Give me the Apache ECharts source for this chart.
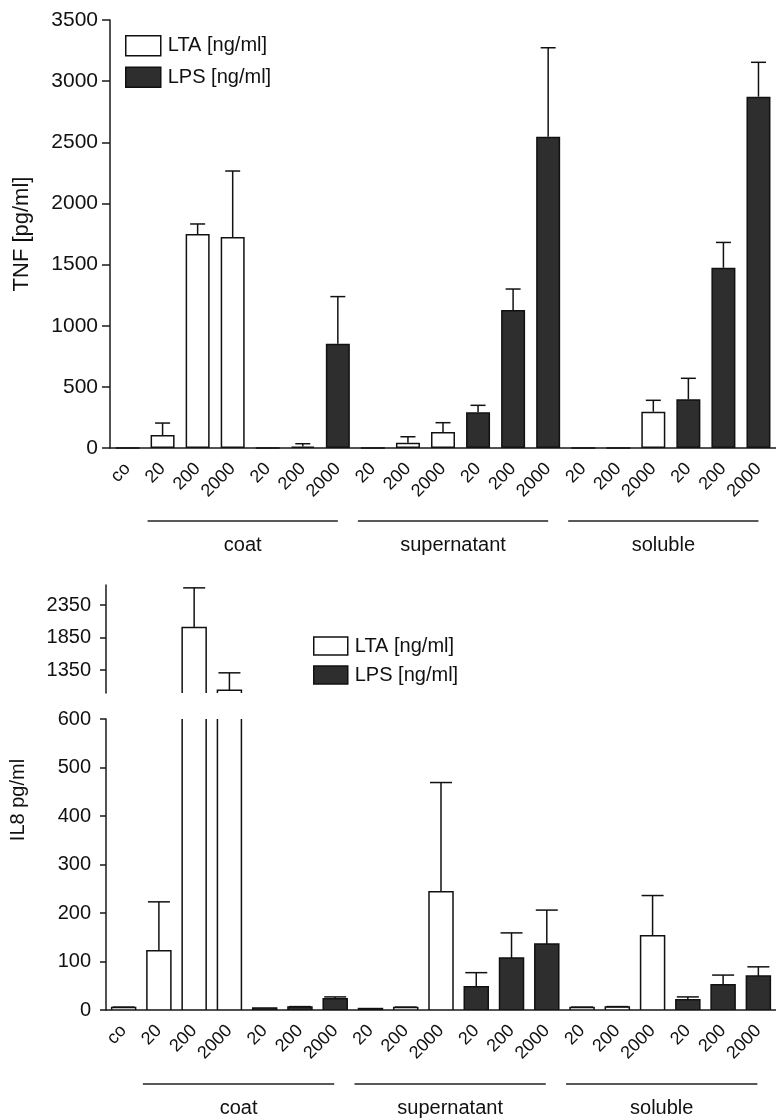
<!DOCTYPE html>
<html><head><meta charset="utf-8">
<script src="https://cdn.jsdelivr.net/npm/echarts@6/dist/echarts.min.js"></script>
<style>html,body{margin:0;padding:0;background:#fff}#c{width:776px;height:1118px}</style>
</head><body><div id="c"></div>
<script>
// ---- data ----
const categories = ['co','20','200','2000','20','200','2000','20','200','2000','20','200','2000','20','200','2000','20','200','2000'];
const stimulus   = ['LTA','LTA','LTA','LTA','LPS','LPS','LPS','LTA','LTA','LTA','LPS','LPS','LPS','LTA','LTA','LTA','LPS','LPS','LPS'];
const groups = ['coat','supernatant','soluble'];
const groupStart = [1, 7, 13];
const groupEnd = [6, 12, 18];
const seriesNames = ['LTA [ng/ml]', 'LPS [ng/ml]'];
const tnfMean = [0, 106, 1750, 1725, 0, 12, 852, 0, 43, 131, 292, 1128, 2546, 0, 0, 297, 398, 1474, 2873];
const tnfSD   = [0, 98, 82, 540, 0, 23, 386, 0, 49, 76, 57, 172, 727, 0, 0, 93, 172, 207, 281];
const il8Mean = [5, 122, 2007, 1042, 4, 6, 23, 3, 5, 244, 48, 107, 136, 5, 6, 153, 21, 52, 70];
const il8SD   = [1, 101, 609, 268, 0, 1, 4, 0, 1, 225, 29, 52, 70, 1, 1, 83, 6, 20, 19];
const il8UpperTicks = [1350, 1850, 2350];

// ---- styles ----
const FONT = '"Liberation Sans", Arial, Helvetica, sans-serif';
const INK = '#111';
const DARK = '#2e2e2e';
const styleLTA = {color: '#fff', borderColor: INK, borderWidth: 1.5};
const styleLPS = {color: DARK, borderColor: INK, borderWidth: 1.5};

const chart = echarts.init(document.getElementById('c'), null, {renderer: 'canvas'});

function pick(arr, kind) { return arr.map((v, i) => stimulus[i] === kind ? v : '-'); }

function errItem(cap) {
  return function (params, api) {
    const x = api.value(0), m = api.value(1), sd = api.value(2);
    if (!(sd > 0)) return null;
    const p0 = api.coord([x, m]);
    const p1 = api.coord([x, m + sd]);
    const st = {stroke: INK, lineWidth: 1.5};
    return {type: 'group', children: [
      {type: 'line', shape: {x1: p0[0], y1: p0[1], x2: p1[0], y2: p1[1]}, style: st},
      {type: 'line', shape: {x1: p1[0] - cap / 2, y1: p1[1], x2: p1[0] + cap / 2, y2: p1[1]}, style: st}
    ]};
  };
}
function barItem(style) {
  return function (params, api) {
    const x = api.value(0), v = api.value(1);
    const top = api.coord([x, v]);
    const base = api.coord([x, 0]);
    const w = 24;
    return {type: 'rect', shape: {x: top[0] - w / 2, y: top[1], width: w, height: base[1] - top[1]},
      style: {fill: style.color, stroke: style.borderColor, lineWidth: style.borderWidth}};
  };
}
function pairs(means, kind) {
  const out = [];
  means.forEach((v, i) => { if (stimulus[i] === kind) out.push([i, v]); });
  return out;
}
function triples(means, sds) { return means.map((v, i) => [i, v, sds[i]]); }

const plain = v => String(v);
const axisLineStyle = {color: '#1a1a1a', width: 1.5};
const xLabel = {color: INK, fontSize: 18, fontFamily: FONT, rotate: 45, interval: 0, margin: 18};

function legendCfg(left, top, iw, ih, gap) {
  return {
    left: left, top: top, orient: 'vertical', icon: 'rect', itemWidth: iw, itemHeight: ih, itemGap: gap,
    textStyle: {color: INK, fontSize: 20, fontFamily: FONT, lineHeight: 20, padding: [0, 0, 0, 2]},
    data: [{name: seriesNames[0], itemStyle: styleLTA}, {name: seriesNames[1], itemStyle: styleLPS}]
  };
}

const option = {
  backgroundColor: '#fff',
  animation: false,
  legend: [legendCfg(120, 30, 35, 20, 10), legendCfg(308, 631, 34, 18, 9)],
  grid: [
    {left: 110, top: 20, width: 678, height: 428},
    {left: 106, top: 585, width: 672, height: 108},
    {left: 106, top: 719, width: 672, height: 291}
  ],
  xAxis: [
    {gridIndex: 0, type: 'category', data: categories,
     axisLine: {lineStyle: axisLineStyle}, axisTick: {alignWithLabel: true, length: 7, lineStyle: axisLineStyle},
     axisLabel: xLabel},
    {gridIndex: 1, type: 'category', data: categories, show: false},
    {gridIndex: 2, type: 'category', data: categories,
     axisLine: {lineStyle: axisLineStyle}, axisTick: {alignWithLabel: true, length: 7, lineStyle: axisLineStyle},
     axisLabel: xLabel}
  ],
  yAxis: [
    {gridIndex: 0, type: 'value', min: 0, max: 3500, interval: 500,
     name: 'TNF [pg/ml]', nameLocation: 'middle', nameGap: 77,
     nameTextStyle: {color: INK, fontSize: 22, fontFamily: FONT},
     axisLine: {show: true, lineStyle: axisLineStyle}, axisTick: {show: true, length: 8, lineStyle: axisLineStyle},
     axisLabel: {margin: 12, color: INK, fontSize: 21, fontFamily: FONT, formatter: plain}, splitLine: {show: false}},
    {gridIndex: 1, type: 'value', min: 1000, max: 2660,
     axisLine: {show: true, lineStyle: axisLineStyle},
     axisTick: {show: true, length: 6, lineStyle: axisLineStyle, customValues: il8UpperTicks},
     axisLabel: {margin: 15, color: INK, fontSize: 20, fontFamily: FONT, formatter: plain, customValues: il8UpperTicks},
     splitLine: {show: false}},
    {gridIndex: 2, type: 'value', min: 0, max: 600, interval: 100,
     axisLine: {show: true, lineStyle: axisLineStyle}, axisTick: {show: true, length: 6, lineStyle: axisLineStyle},
     axisLabel: {margin: 15, color: INK, fontSize: 20, fontFamily: FONT, formatter: plain}, splitLine: {show: false}}
  ],
  series: [
    {name: seriesNames[0], type: 'bar', xAxisIndex: 0, yAxisIndex: 0, barWidth: 24, barGap: '-100%',
     data: pick(tnfMean, 'LTA'), itemStyle: styleLTA},
    {name: seriesNames[1], type: 'bar', xAxisIndex: 0, yAxisIndex: 0, barWidth: 24, barGap: '-100%',
     data: pick(tnfMean, 'LPS'), itemStyle: styleLPS},
    {type: 'custom', xAxisIndex: 0, yAxisIndex: 0, clip: true, data: triples(tnfMean, tnfSD), renderItem: errItem(15), z: 3},

    {name: seriesNames[0], type: 'custom', xAxisIndex: 1, yAxisIndex: 1, clip: true, data: pairs(il8Mean, 'LTA'), renderItem: barItem(styleLTA), itemStyle: {color: '#fff'}},
    {name: seriesNames[1], type: 'custom', xAxisIndex: 1, yAxisIndex: 1, clip: true, data: pairs(il8Mean, 'LPS'), renderItem: barItem(styleLPS), itemStyle: {color: DARK}},
    {type: 'custom', xAxisIndex: 1, yAxisIndex: 1, clip: true, data: triples(il8Mean, il8SD), renderItem: errItem(22), z: 3},

    {name: seriesNames[0], type: 'custom', xAxisIndex: 2, yAxisIndex: 2, clip: true, data: pairs(il8Mean, 'LTA'), renderItem: barItem(styleLTA), itemStyle: {color: '#fff'}},
    {name: seriesNames[1], type: 'custom', xAxisIndex: 2, yAxisIndex: 2, clip: true, data: pairs(il8Mean, 'LPS'), renderItem: barItem(styleLPS), itemStyle: {color: DARK}},
    {type: 'custom', xAxisIndex: 2, yAxisIndex: 2, clip: true, data: triples(il8Mean, il8SD), renderItem: errItem(22), z: 3}
  ]
};
chart.setOption(option);

function groupGraphics(xAxisIndex, lineY, textY, dl, dr) {
  const out = [];
  groups.forEach((g, k) => {
    const x0 = chart.convertToPixel({xAxisIndex: xAxisIndex}, groupStart[k]) + dl;
    const x1 = chart.convertToPixel({xAxisIndex: xAxisIndex}, groupEnd[k]) + dr;
    out.push({type: 'line', shape: {x1: x0, y1: lineY, x2: x1, y2: lineY}, style: {stroke: '#222', lineWidth: 1.5}});
    out.push({type: 'text', x: (x0 + x1) / 2, y: textY,
      style: {text: g, align: 'center', verticalAlign: 'middle', fontSize: 20, fontFamily: FONT, fill: INK}});
  });
  return out;
}
const graphics = groupGraphics(0, 521, 545, -15, 0)
  .concat(groupGraphics(2, 1084, 1108, -16, -1))
  .concat([{type: 'text', x: 18, y: 800, rotation: Math.PI / 2,
    style: {text: 'IL8 pg/ml', align: 'center', verticalAlign: 'middle', fontSize: 20, fontFamily: FONT, fill: INK}}]);
chart.setOption({graphic: graphics});
</script>
</body></html>
